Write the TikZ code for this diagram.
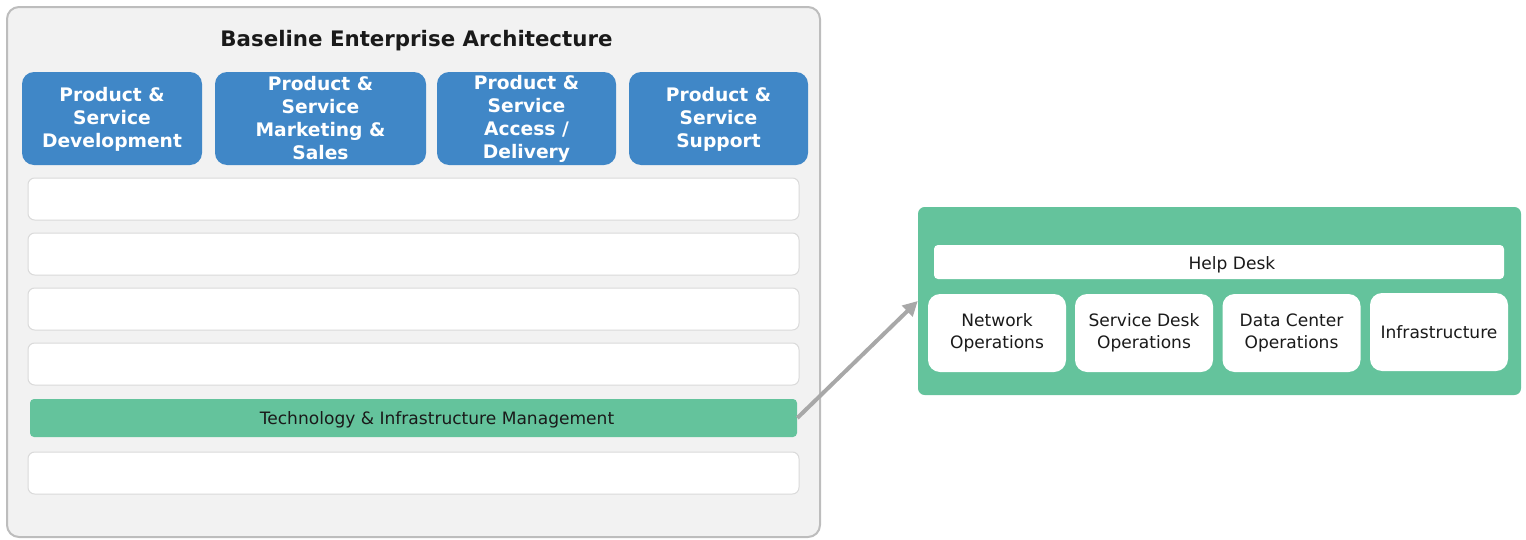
\documentclass[tikz,border=0pt]{standalone}
\usepackage{fontspec}
\setmainfont{DejaVu Sans}
\usetikzlibrary{positioning}
\usetikzlibrary{calc}
\usetikzlibrary{arrows.meta}
\definecolor{framegray}{HTML}{BDBDBD}
\definecolor{panelgray}{HTML}{F2F2F2}
\definecolor{rowgray}{HTML}{DADADA}
\definecolor{capblue}{HTML}{4087C7}
\definecolor{mintgreen}{HTML}{64C39C}
\definecolor{arrowgray}{HTML}{A8A8A8}
\definecolor{inkgray}{HTML}{1A1A1A}
\tikzset{every picture/.style={x=0.75pt,y=-0.75pt}}
\begin{document}
\begin{tikzpicture}[base/.style={rectangle, rounded corners=9pt, fill=panelgray, draw=framegray, line width=1.5pt},
capbox/.style={rectangle, rounded corners=9pt, fill=capblue, text=white, align=center, minimum height=69.75pt, inner sep=0pt, font=\bfseries\fontsize{14}{17.25}\selectfont},
row/.style={rectangle, rounded corners=5pt, fill=white, draw=rowgray, line width=0.75pt, minimum width=578.25pt, minimum height=31.5pt},
tile/.style={rectangle, rounded corners=9pt, fill=white, align=center, minimum width=103.5pt, minimum height=58.5pt, inner sep=0pt, text=inkgray, font=\fontsize{12.8}{16.5}\selectfont},
caption/.style={text=inkgray, font=\fontsize{12.8}{15}\selectfont}]
\useasboundingbox (0,0) rectangle (1526,539);
\node (base) at (413.5,272) [base, minimum width=609.75pt, minimum height=397.5pt] {};
\node (title) at (416.5,41) [text=inkgray, font=\bfseries\fontsize{16}{19}\selectfont] {Baseline Enterprise Architecture};
% capability columns
\node (C1) at (112,118.5) [capbox, minimum width=135pt] {\strut Product \&\\Service\\Development};
\node (C2) at (320.5,118.5) [capbox, minimum width=158.25pt] {Product \&\\Service\\Marketing \&\\Sales};
\node (C3) at (526.5,118.5) [capbox, minimum width=134.25pt] {Product \&\\Service\\Access /\\Delivery};
\node (C4) at (718.5,118.5) [capbox, minimum width=134.25pt] {\strut Product \&\\Service\\Support};
% layers
\foreach \i/\y in {1/199, 2/254, 3/309, 4/364, 6/473} {
\node (R\i) at (413.5,\y) [row] {};
}
\node (tim) at (413.5,418) [rectangle, rounded corners=3pt, fill=mintgreen, minimum width=575.25pt, minimum height=28.5pt] {};
\node (timtext) at (437,420) [caption] {Technology \& Infrastructure Management};
% detail panel
\node (panel) at (1219.5,301) [rectangle, rounded corners=5pt, fill=mintgreen, minimum width=452.25pt, minimum height=141pt] {};
\node (help) at (1219,262) [rectangle, rounded corners=3pt, fill=white, minimum width=427.5pt, minimum height=25.5pt] {};
\node (helptext) at (1232,265) [caption] {Help Desk};
\node (T1) at (997,333) [tile] {Network\\Operations};
\node (T2) at (1144,333) [tile] {Service Desk\\Operations};
\node (T3) at (1291.5,333) [tile] {Data Center\\Operations};
\node (T4) at (1439,332) [tile] {Infrastructure};
\draw[-{Triangle[length=11pt,width=11pt]}, draw=arrowgray, fill=arrowgray, line width=3pt] (tim.east) -- (panel.west);
\end{tikzpicture}
\end{document}
